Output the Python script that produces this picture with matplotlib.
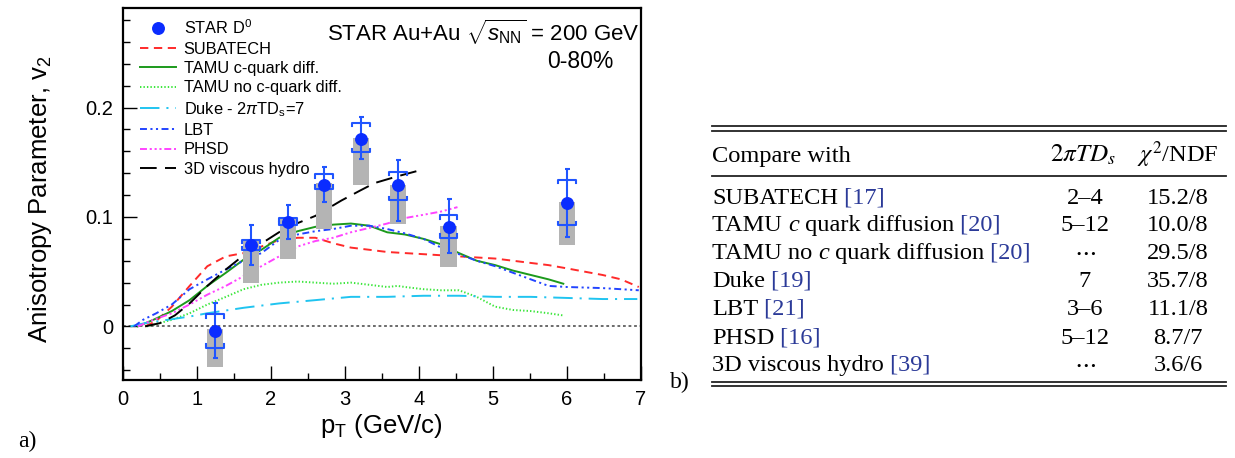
import numpy as np
import matplotlib
matplotlib.use("Agg")
import matplotlib.pyplot as plt
from matplotlib.lines import Line2D
from matplotlib.ticker import MultipleLocator, FuncFormatter

plt.rcParams['font.family'] = ['Liberation Sans', 'DejaVu Sans']
plt.rcParams['mathtext.fontset'] = 'custom'
plt.rcParams['mathtext.rm'] = 'Liberation Sans'
plt.rcParams['mathtext.it'] = 'Liberation Sans:italic'
plt.rcParams['mathtext.bf'] = 'Liberation Sans:bold'
plt.rcParams['lines.scale_dashes'] = False

# STAR D0 v2 data
pt_d = [1.24, 1.73, 2.23, 2.72, 3.22, 3.72, 4.40, 6.00]
v2_d = [-0.004, 0.074, 0.095, 0.129, 0.171, 0.129, 0.091, 0.113]
stat_hi = [0.0217, 0.093, 0.111, 0.146, 0.1915, 0.1525, 0.116, 0.1434]
stat_lo = [-0.0286, 0.056, 0.0795, 0.1135, 0.153, 0.096, 0.0673, 0.082]
sys_hi = [0.011, 0.0788, 0.0993, 0.139, 0.186, 0.141, 0.1014, 0.1336]
sys_lo = [-0.0195, 0.0697, 0.0925, 0.1258, 0.1595, 0.1153, 0.081, 0.0925]
box_hi = [-0.002, 0.079, 0.099, 0.131, 0.172, 0.129, 0.0916, 0.1135]
box_lo = [-0.037, 0.040, 0.062, 0.0886, 0.1288, 0.094, 0.0545, 0.0742]

# model curves
sub_pt = [0.3, 0.45, 0.66, 0.9, 1.14, 1.39, 1.63, 1.87, 2.11, 2.36, 2.6, 2.84, 3.08, 3.33,
          3.57, 3.81, 4.06, 4.3, 4.54, 4.78, 5.03, 5.27, 5.51, 5.75, 6.0, 6.24, 6.48, 6.73, 6.97]
sub_v2 = [0.0, 0.005, 0.018, 0.037, 0.055, 0.064, 0.067, 0.073, 0.079, 0.081, 0.081, 0.076, 0.072,
          0.070, 0.068, 0.067, 0.066, 0.065, 0.064, 0.063, 0.062, 0.060, 0.058, 0.056, 0.053,
          0.050, 0.047, 0.043, 0.036]

tc_pt = [0.2, 0.41, 0.66, 0.9, 1.14, 1.39, 1.63, 1.87, 2.11, 2.36, 2.6, 2.84, 3.08, 3.33, 3.57,
         3.81, 4.06, 4.3, 4.54, 4.78, 5.03, 5.27, 5.51, 5.75, 5.95]
tc_v2 = [0.0, 0.006, 0.014, 0.024, 0.037, 0.049, 0.061, 0.070, 0.081, 0.087, 0.091, 0.093, 0.094,
         0.092, 0.086, 0.084, 0.080, 0.075, 0.067, 0.060, 0.056, 0.051, 0.047, 0.043, 0.039]

tn_pt = [0.32, 0.66, 0.9, 1.14, 1.39, 1.63, 1.87, 2.11, 2.36, 2.6, 2.84, 3.08, 3.33, 3.57, 3.71,
         3.81, 4.06, 4.3, 4.54, 4.78, 5.03, 5.27, 5.51, 5.75, 5.95]
tn_v2 = [0.0, 0.006, 0.012, 0.020, 0.027, 0.034, 0.038, 0.040, 0.041, 0.040, 0.039, 0.040, 0.038,
         0.036, 0.037, 0.036, 0.034, 0.033, 0.033, 0.027, 0.018, 0.015, 0.014, 0.012, 0.010]

duke_pt = [0.1, 0.3, 0.5, 0.7, 0.9, 1.14, 1.63, 2.11, 2.6, 3.08, 3.57, 4.06, 4.54, 5.03, 5.51,
           6.0, 6.48, 6.95]
duke_v2 = [0.0, 0.003, 0.005, 0.007, 0.009, 0.012, 0.017, 0.021, 0.024, 0.027, 0.027, 0.028,
           0.028, 0.027, 0.027, 0.026, 0.025, 0.025]

lbt_pt = [0.15, 0.27, 0.45, 0.66, 0.9, 1.14, 1.39, 1.63, 1.87, 2.11, 2.36, 2.6, 2.84, 3.08, 3.33,
          3.57, 3.81, 4.06, 4.3, 4.54, 4.78, 5.03, 5.27, 5.51, 5.75, 6.0, 6.48, 6.97]
lbt_v2 = [0.0, 0.006, 0.012, 0.020, 0.034, 0.043, 0.052, 0.060, 0.067, 0.079, 0.084, 0.087, 0.089,
          0.092, 0.092, 0.089, 0.085, 0.080, 0.072, 0.066, 0.060, 0.055, 0.049, 0.043, 0.037,
          0.036, 0.035, 0.033]

ph_pt = [0.2, 0.41, 0.66, 0.9, 1.14, 1.39, 1.63, 1.87, 2.11, 2.36, 2.6, 2.84, 3.08, 3.33, 3.57,
         3.81, 4.06, 4.3, 4.52]
ph_v2 = [0.0, 0.006, 0.012, 0.020, 0.029, 0.037, 0.046, 0.055, 0.064, 0.073, 0.078, 0.081, 0.086,
         0.090, 0.094, 0.099, 0.102, 0.105, 0.109]

hy_pt = [0.3, 0.5, 0.7, 0.9, 1.14, 1.39, 1.63, 1.9, 2.2, 2.6, 2.95, 3.2, 3.4, 3.7, 4.03]
hy_v2 = [0.0, 0.003, 0.010, 0.021, 0.037, 0.052, 0.065, 0.077, 0.090, 0.101, 0.115, 0.124, 0.131,
         0.137, 0.143]

# table b)
tbl_names = [["SUBATECH"], ["TAMU ", "c", " quark diffusion"], ["TAMU no ", "c", " quark diffusion"],
             ["Duke"], ["LBT"], ["PHSD"], ["3D viscous hydro"]]
tbl_refs = ["[17]", "[20]", "[20]", "[19]", "[21]", "[16]", "[39]"]
tbl_tds = ["2\u20134", "5\u201312", None, "7", "3\u20136", "5\u201312", None]
tbl_chi2 = ["15.2/8", "10.0/8", "29.5/8", "35.7/8", "11.1/8", "8.7/7", "3.6/6"]

W, H = 1235, 458
fig = plt.figure(figsize=(W / 100, H / 100), dpi=100)
ax = fig.add_axes([123 / W, 78 / H, 518 / W, 372 / H])

blue = '#0a2cff'
eblue = '#2055ff'

l_sub, = ax.plot(sub_pt, sub_v2, color='#ff2a2a', lw=1.4, dashes=(6, 4))
l_tc, = ax.plot(tc_pt, tc_v2, color='#1c9a1c', lw=1.4)
l_tn, = ax.plot(tn_pt, tn_v2, color='#3ae63a', lw=1.4, dashes=(1, 1.5))
l_duke, = ax.plot(duke_pt, duke_v2, color='#20c4f0', lw=1.4, dashes=(14, 5, 1.5, 5))
l_lbt, = ax.plot(lbt_pt, lbt_v2, color='#2244ff', lw=1.4, dashes=(5, 2.5, 1.5, 2.5, 1.5, 2.5))
l_ph, = ax.plot(ph_pt, ph_v2, color='#ff44ff', lw=1.4, dashes=(5, 2, 1.5, 2, 1.5, 2, 1.5, 2))
l_hy, = ax.plot(hy_pt, hy_v2, color='black', lw=1.4, dashes=(12, 6))

ax.axhline(0, color='#444444', lw=1.1, dashes=(2, 2), zorder=1)

pt_a = np.array(pt_d)
v2_a = np.array(v2_d)
ax.bar(pt_a, np.array(box_hi) - np.array(box_lo), bottom=box_lo, width=0.22,
       color='#b4b4b4', zorder=3)
ax.errorbar(pt_a, v2_a, yerr=[v2_a - np.array(stat_lo), np.array(stat_hi) - v2_a],
            fmt='none', ecolor=eblue, elinewidth=1.5, capsize=1.8, capthick=1.5, zorder=5)
bw, bt = 0.12, 0.003
for x, hi, lo in zip(pt_d, sys_hi, sys_lo):
    ax.plot([x - bw, x - bw, x + bw, x + bw], [hi - bt, hi, hi, hi - bt], color=eblue, lw=1.5, zorder=5)
    ax.plot([x - bw, x - bw, x + bw, x + bw], [lo + bt, lo, lo, lo + bt], color=eblue, lw=1.5, zorder=5)
ax.plot(pt_d, v2_d, 'o', color=blue, ms=8.3, zorder=6)

ax.set_xlim(0, 7)
ax.set_ylim(-0.049, 0.291)
ax.xaxis.set_major_locator(MultipleLocator(1))
ax.xaxis.set_minor_locator(MultipleLocator(0.5))
ax.yaxis.set_major_locator(MultipleLocator(0.1))
ax.yaxis.set_minor_locator(MultipleLocator(0.02))
ax.yaxis.set_major_formatter(FuncFormatter(lambda v, p: f'{v:g}' if abs(v) > 1e-9 else '0'))
ax.tick_params(which='both', direction='in', top=False, right=False, labelsize=14.5, width=1)
ax.tick_params(which='major', length=10, pad=7)
ax.tick_params(which='minor', length=5)
for s in ax.spines.values():
    s.set_linewidth(1.6)

ax.set_xlabel(r'p$_{\rm T}$ (GeV/c)', fontsize=18.5)
ax.xaxis.set_label_coords(0.498, -0.085)
ylab = ax.set_ylabel(r'Anisotropy Parameter, v$_{2}$', fontsize=18.5)
ylab.set_va('center')
ax.yaxis.set_label_coords((40 - 123) / 518, (380 - 199) / 372)

ax.text(0.998, 0.935, r'STAR Au+Au $\sqrt{s_{\rm NN}}$ = 200 GeV', transform=ax.transAxes,
        ha='right', va='center', fontsize=16)
ax.text(0.882, 0.855, '0-80%', transform=ax.transAxes, ha='center', va='center', fontsize=16.5)

h_star = Line2D([], [], marker='o', ls='none', color=blue, ms=8.3)
handles = [h_star, l_sub, l_tc, l_tn, l_duke, l_lbt, l_ph, l_hy]
labels = [r'STAR D$^0$', 'SUBATECH', 'TAMU c-quark diff.', 'TAMU no c-quark diff.',
          r'Duke - 2$\pi$TD$_{\rm s}$=7', 'LBT', 'PHSD', '3D viscous hydro']
ax.legend(handles, labels, loc='upper left', bbox_to_anchor=(0.033, 0.972), frameon=False,
          fontsize=11.8, handlelength=2.2, handletextpad=0.45, labelspacing=0.27,
          borderaxespad=0, borderpad=0)

# overlay in pixel coordinates for table and panel labels
tx = fig.add_axes([0, 0, 1, 1])
tx.set_xlim(0, W)
tx.set_ylim(H, 0)
tx.axis('off')
tx.patch.set_alpha(0)

serif = ['Liberation Serif', 'DejaVu Serif']
fs = 17.6
ref_col = '#2b3a98'

tx.text(18, 447, 'a)', family=serif, fontsize=17, va='baseline')
tx.text(670, 388, 'b)', family=serif, fontsize=17, va='baseline')

for yy in [126, 131, 381.5, 386]:
    tx.plot([712, 1226], [yy, yy], color='#222222', lw=1.3)
tx.plot([712, 1226], [176, 176], color='#222222', lw=1.3)

tx.text(712, 162, 'Compare with', family=serif, fontsize=fs, va='baseline')
tx.text(1083, 162, r'$2\pi TD_s$', fontsize=fs + 0.5, va='baseline', ha='center', math_fontfamily='stix')
tx.text(1178, 162, r'$\chi^2$/NDF', family=serif, fontsize=fs, va='baseline', ha='center',
        math_fontfamily='stix')

row_y = [203.5, 231, 259, 287, 315, 343.5, 371]
for y, parts, ref, tds, chi in zip(row_y, tbl_names, tbl_refs, tbl_tds, tbl_chi2):
    prev = tx.text(712, y, parts[0], family=serif, fontsize=fs, va='baseline')
    for p in parts[1:] + [' ' + ref]:
        is_ref = p.startswith(' [')
        style = 'italic' if p == 'c' else 'normal'
        prev = tx.annotate(p, xy=(1, 0), xycoords=prev, va='bottom', ha='left', family=serif,
                           fontsize=fs, style=style, color=ref_col if is_ref else 'black')
    if tds is None:
        tx.text(1085, y, r'$\cdots$', fontsize=fs, va='baseline', ha='center', math_fontfamily='stix')
    else:
        tx.text(1085, y, tds, family=serif, fontsize=fs, va='baseline', ha='center')
    tx.text(1178, y, chi, family=serif, fontsize=fs, va='baseline', ha='center')

fig.savefig('out.png', dpi=100)
